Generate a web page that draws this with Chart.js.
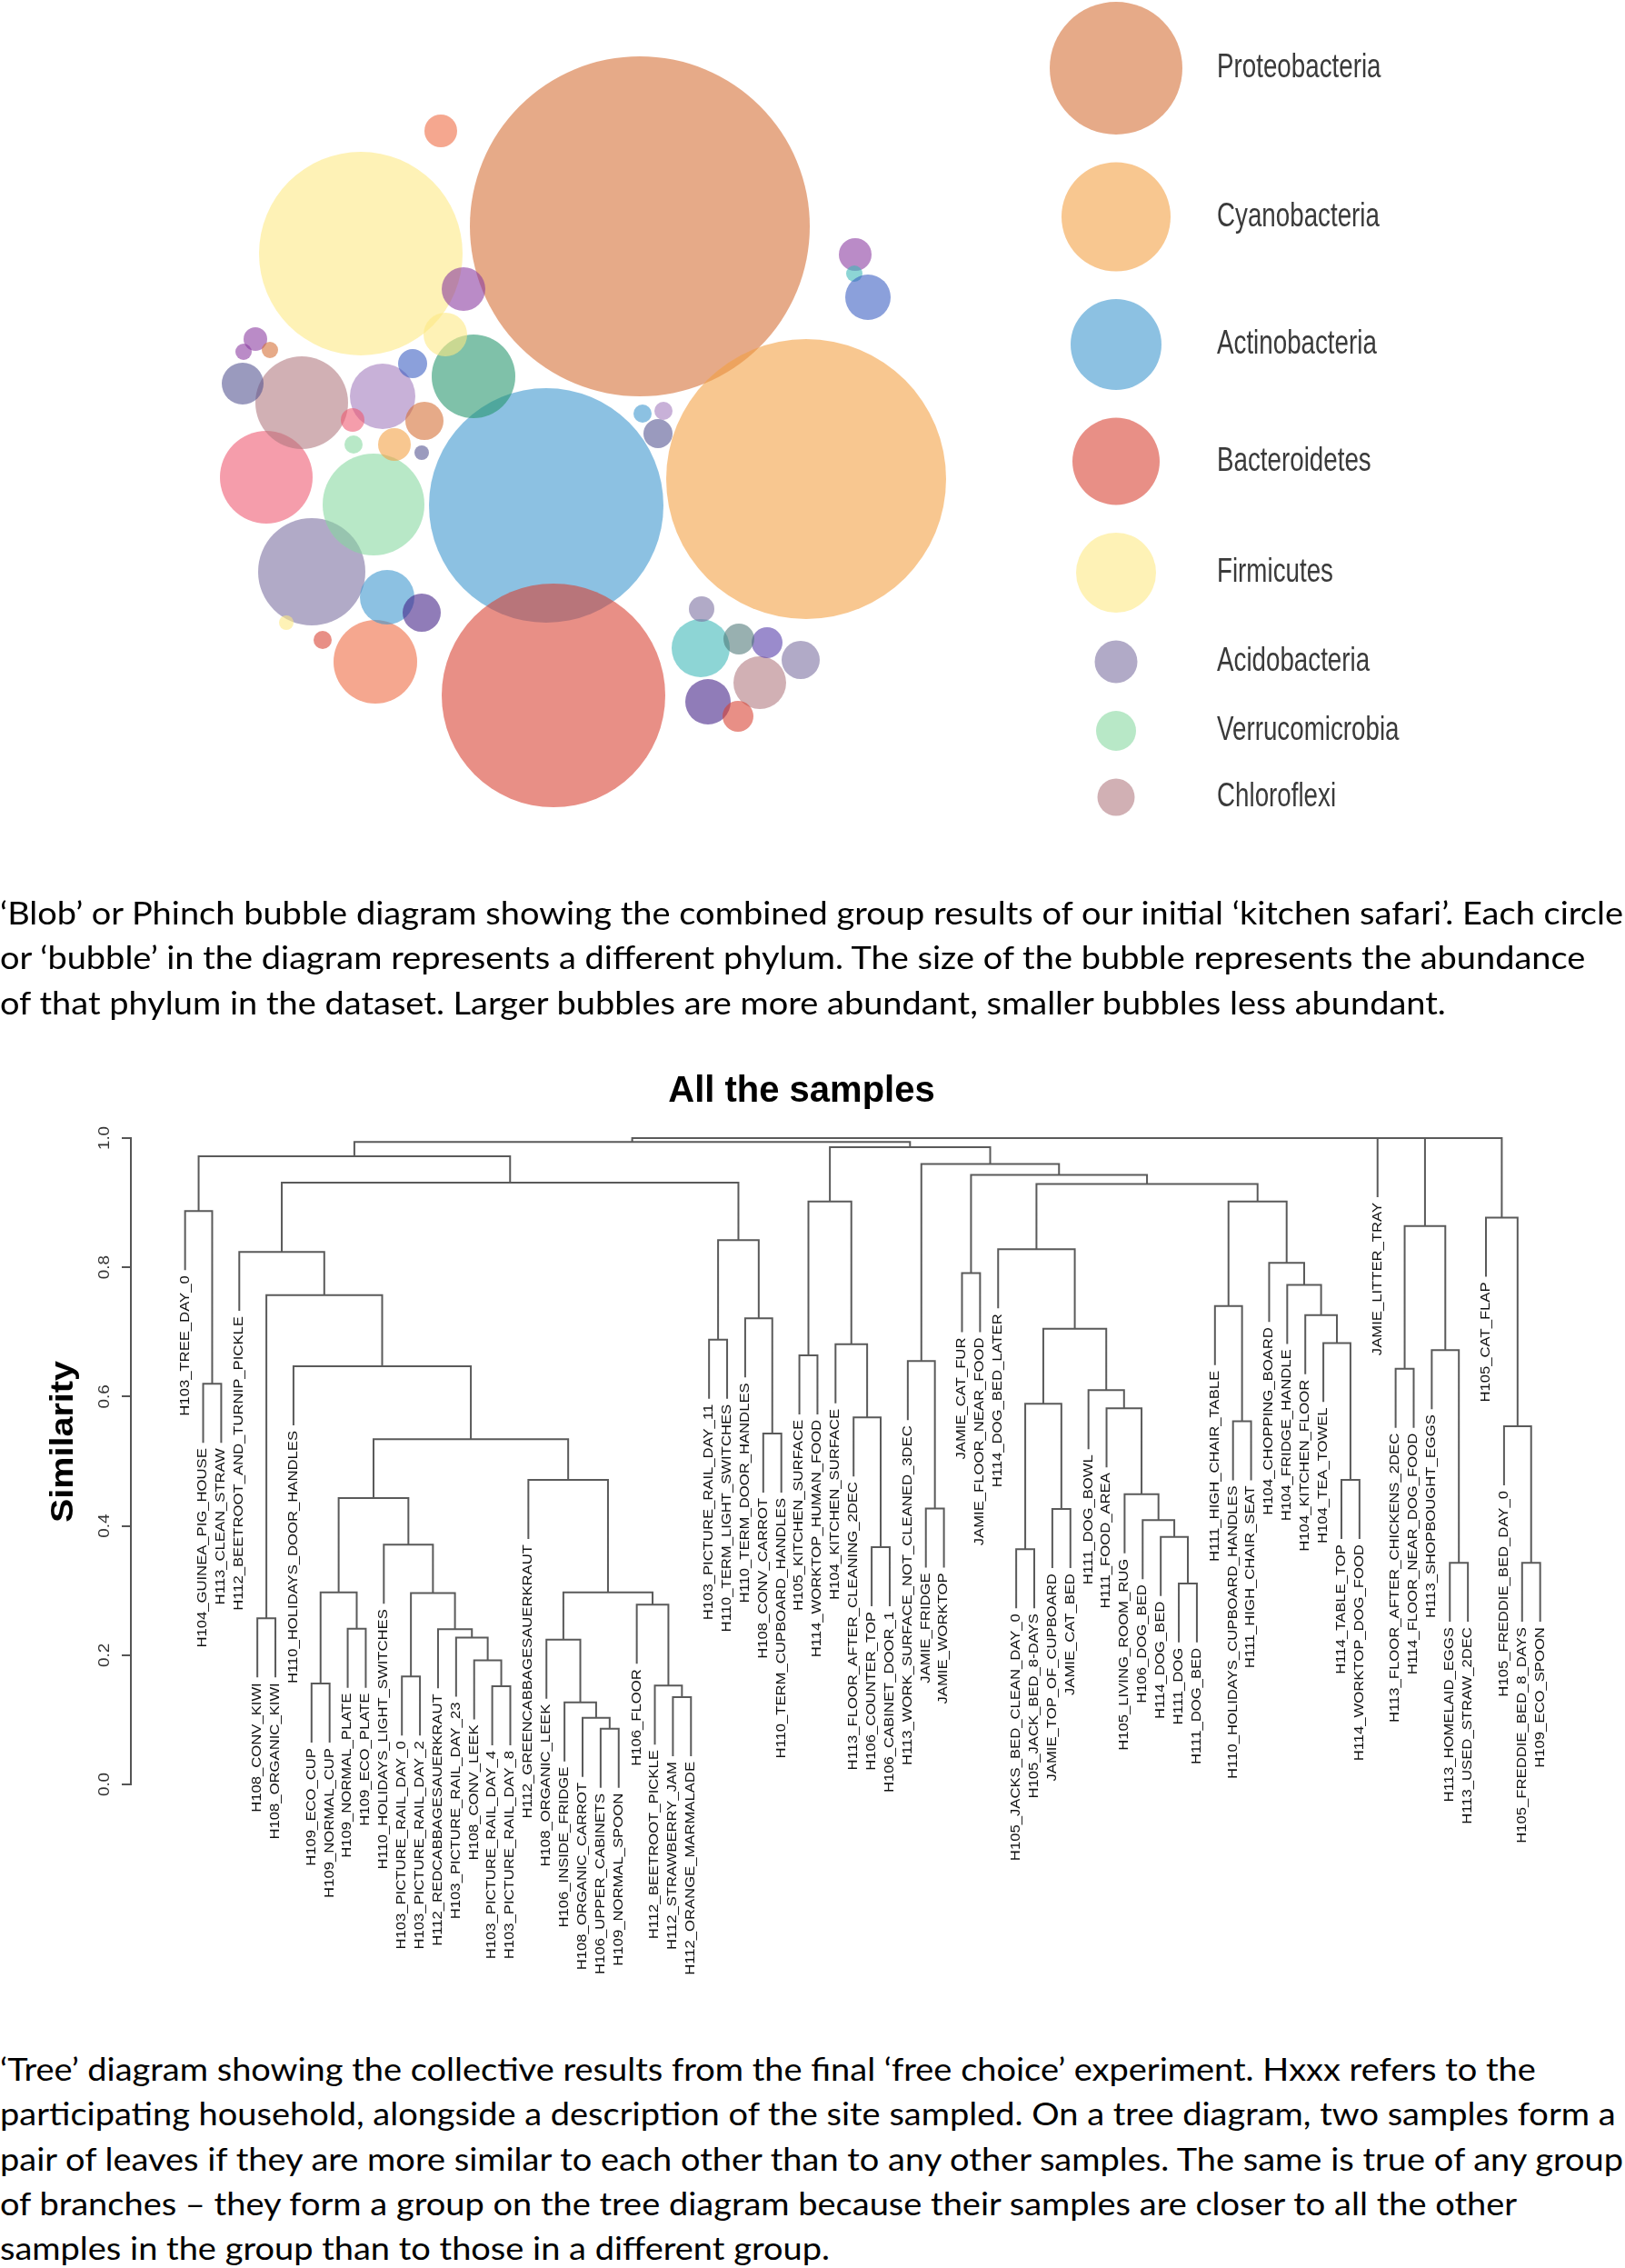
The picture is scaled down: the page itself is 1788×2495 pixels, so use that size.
<!DOCTYPE html>
<html lang="en">
<head>
<meta charset="UTF-8">
<title>Kitchen safari results</title>
<script src="https://cdn.jsdelivr.net/npm/chart.js"></script>
<style>
  body { margin: 0; background: #fff; width: 1788px; height: 2495px; position: relative; overflow: hidden; }
  canvas { position: absolute; }
  #blob { top: -200px; left: -200px; }
  #tree { top: 1160px; left: 0; }
  .caption { position: absolute; left: 0; font-family: Lato, "Open Sans", sans-serif; font-size: 35px; line-height: 49.3px; color: #000; }
  .caption div { white-space: nowrap; width: max-content; transform-origin: 0 50%; }
</style>
</head>
<body>
<canvas id="blob" width="2188" height="1360"></canvas>

<div class="caption" id="cap1" style="top:979px">
  <div>‘Blob’ or Phinch bubble diagram showing the combined group results of our initial ‘kitchen safari’. Each circle</div>
  <div>or ‘bubble’ in the diagram represents a different phylum. The size of the bubble represents the abundance</div>
  <div>of that phylum in the dataset. Larger bubbles are more abundant, smaller bubbles less abundant.</div>
</div>

<canvas id="tree" width="1788" height="1040"></canvas>

<div class="caption" id="cap2" style="top:2251px">
  <div>‘Tree’ diagram showing the collective results from the final ‘free choice’ experiment. Hxxx refers to the</div>
  <div>participating household, alongside a description of the site sampled. On a tree diagram, two samples form a</div>
  <div>pair of leaves if they are more similar to each other than to any other samples. The same is true of any group</div>
  <div>of branches – they form a group on the tree diagram because their samples are closer to all the other</div>
  <div>samples in the group than to those in a different group.</div>
</div>

<script>
// ---- bubble diagram data ----
const phyla = ['Proteobacteria', 'Cyanobacteria', 'Actinobacteria', 'Bacteroidetes',
               'Firmicutes', 'Acidobacteria', 'Verrucomicrobia', 'Chloroflexi'];
const legendR = [73, 60, 50, 48, 44, 23.5, 22, 20.5];

// bubble layout (x, y, radius)
const bubbleX = [704, 887, 601, 609, 397, 343, 411, 293, 332, 413, 521, 421, 426, 464, 771,
                 836, 779, 812, 844, 813, 881, 772, 485, 510, 490, 941, 940, 955, 281, 268,
                 297, 267, 454, 467, 434, 388, 389, 464, 707, 730, 724, 315, 355];
const bubbleY = [249, 527, 556, 765, 279, 629, 555, 525, 443, 728, 414, 436, 657, 674, 713,
                 751, 772, 788, 707, 703, 726, 670, 144, 318, 368, 280, 301, 327, 373, 387,
                 385, 422, 400, 463, 489, 462, 489, 498, 455, 452, 477, 685, 704];
const bubbleR = [187, 154, 129, 123, 112, 59, 56, 51, 51, 46, 46, 36, 30, 21, 32,
                 29, 25, 17, 17, 17, 21, 14, 18, 24, 24, 18, 9, 25, 13, 9,
                 9, 23, 16, 21, 18, 13, 10, 8, 10, 10, 16, 8, 10];
const bubbleTone = ['proteo', 'cyano', 'actino', 'bact', 'firm', 'acido', 'verruco', 'rose', 'chloro', 'salmon',
                    'tealgreen', 'lavender', 'actino', 'darkpurple', 'teal', 'chloro', 'darkpurple', 'bact', 'violet', 'greyteal',
                    'acido', 'acido', 'salmon', 'purple', 'firm', 'purple', 'teal', 'blue', 'purple', 'purple',
                    'proteo', 'greyblue', 'blue', 'proteo', 'cyano', 'rose', 'verruco', 'greyblue', 'actino', 'lavender',
                    'greyblue', 'firm', 'bact'];

// ---- dendrogram data ----
const leafLabels = [
  'H103_TREE_DAY_0', 'H104_GUINEA_PIG_HOUSE', 'H113_CLEAN_STRAW', 'H112_BEETROOT_AND_TURNIP_PICKLE',
  'H108_CONV_KIWI', 'H108_ORGANIC_KIWI', 'H110_HOLIDAYS_DOOR_HANDLES', 'H109_ECO_CUP',
  'H109_NORMAL_CUP', 'H109_NORMAL_PLATE', 'H109_ECO_PLATE', 'H110_HOLIDAYS_LIGHT_SWITCHES',
  'H103_PICTURE_RAIL_DAY_0', 'H103_PICTURE_RAIL_DAY_2', 'H112_REDCABBAGESAUERKRAUT', 'H103_PICTURE_RAIL_DAY_23',
  'H108_CONV_LEEK', 'H103_PICTURE_RAIL_DAY_4', 'H103_PICTURE_RAIL_DAY_8', 'H112_GREENCABBAGESAUERKRAUT',
  'H108_ORGANIC_LEEK', 'H106_INSIDE_FRIDGE', 'H108_ORGANIC_CARROT', 'H106_UPPER_CABINETS',
  'H109_NORMAL_SPOON', 'H106_FLOOR', 'H112_BEETROOT_PICKLE', 'H112_STRAWBERRY_JAM',
  'H112_ORANGE_MARMALADE', 'H103_PICTURE_RAIL_DAY_11', 'H110_TERM_LIGHT_SWITCHES', 'H110_TERM_DOOR_HANDLES',
  'H108_CONV_CARROT', 'H110_TERM_CUPBOARD_HANDLES', 'H105_KITCHEN_SURFACE', 'H114_WORKTOP_HUMAN_FOOD',
  'H104_KITCHEN_SURFACE', 'H113_FLOOR_AFTER_CLEANING_2DEC', 'H106_COUNTER_TOP', 'H106_CABINET_DOOR_1',
  'H113_WORK_SURFACE_NOT_CLEANED_3DEC', 'JAMIE_FRIDGE', 'JAMIE_WORKTOP', 'JAMIE_CAT_FUR',
  'JAMIE_FLOOR_NEAR_FOOD', 'H114_DOG_BED_LATER', 'H105_JACKS_BED_CLEAN_DAY_0', 'H105_JACK_BED_8-DAYS',
  'JAMIE_TOP_OF_CUPBOARD', 'JAMIE_CAT_BED', 'H111_DOG_BOWL', 'H111_FOOD_AREA',
  'H105_LIVING_ROOM_RUG', 'H106_DOG_BED', 'H114_DOG_BED', 'H111_DOG',
  'H111_DOG_BED', 'H111_HIGH_CHAIR_TABLE', 'H110_HOLIDAYS_CUPBOARD_HANDLES', 'H111_HIGH_CHAIR_SEAT',
  'H104_CHOPPING_BOARD', 'H104_FRIDGE_HANDLE', 'H104_KITCHEN_FLOOR', 'H104_TEA_TOWEL',
  'H114_TABLE_TOP', 'H114_WORKTOP_DOG_FOOD', 'JAMIE_LITTER_TRAY', 'H113_FLOOR_AFTER_CHICKENS_2DEC',
  'H114_FLOOR_NEAR_DOG_FOOD', 'H113_SHOPBOUGHT_EGGS', 'H113_HOMELAID_EGGS', 'H113_USED_STRAW_2DEC',
  'H105_CAT_FLAP', 'H105_FREDDIE_BED_DAY_0', 'H105_FREDDIE_BED_8_DAYS', 'H109_ECO_SPOON'
];
// hclust-style merges: negative = leaf number, positive = earlier merge number
const mergeA = [-24, -23, -22, -28, -18, -27, -8, -13, -17, -21, -16, -15, -10, -5, -26,
                8, 7, 10, -56, -71, -75, -47, -39, -12, -55, -54, -49, -42, 17, -53,
                -20, -65, 29, -33, -74, -59, -38, -52, 22, -51, -2, -68, -7, -41, -35,
                -70, -37, -64, -30, 39, -32, -63, -58, 14, -62, -44, -61, -4, -46, 49,
                42, -73, -1, 45, 53, 59, 58, 56, 44, 63, 64, 70, 61, -67, 72];
const mergeB = [-25, 1, 2, -29, -19, 4, -9, -14, 5, 3, 9, 11, -11, -6, 6,
                12, 13, 15, -57, -72, -76, -48, -40, 16, 19, 25, -50, -43, 24, 26,
                18, -66, 31, -34, 21, -60, 23, 30, 27, 38, -3, -69, 33, 28, -36,
                20, 37, 32, -31, 40, 34, 48, 36, 43, 52, -45, 55, 54, 50, 51,
                46, 35, 41, 47, 57, 65, 60, 66, 68, 67, 69, 71, 62, 73, 74];
const mergeHeight = [0.086, 0.103, 0.127, 0.135, 0.152, 0.153, 0.156, 0.167, 0.192, 0.224, 0.227, 0.240, 0.241, 0.257, 0.278,
                     0.296, 0.297, 0.297, 0.311, 0.343, 0.343, 0.364, 0.367, 0.371, 0.383, 0.409, 0.426, 0.427, 0.443, 0.449,
                     0.471, 0.471, 0.534, 0.543, 0.554, 0.562, 0.568, 0.582, 0.589, 0.610, 0.620, 0.643, 0.647, 0.655, 0.664,
                     0.672, 0.681, 0.683, 0.688, 0.705, 0.721, 0.726, 0.740, 0.757, 0.773, 0.791, 0.807, 0.824, 0.828, 0.842,
                     0.864, 0.877, 0.887, 0.902, 0.902, 0.929, 0.931, 0.943, 0.960, 0.972, 0.986, 0.994, 1.0, 1.0, 1.0];
const similarityTicks = [0, 0.2, 0.4, 0.6, 0.8, 1.0];

// ---- colours ----
const palette = {
  proteo: 'rgba(213,110,52,0.59)', cyano: 'rgba(243,159,67,0.59)', actino: 'rgba(60,149,206,0.59)',
  bact: 'rgba(216,64,50,0.59)', firm: 'rgba(254,233,131,0.59)', acido: 'rgba(122,110,159,0.59)',
  verruco: 'rgba(135,216,159,0.59)', chloro: 'rgba(176,120,128,0.59)', rose: 'rgba(238,89,113,0.59)',
  salmon: 'rgba(238,105,64,0.59)', tealgreen: 'rgba(38,150,108,0.59)', lavender: 'rgba(162,123,188,0.59)',
  darkpurple: 'rgba(66,32,135,0.59)', violet: 'rgba(84,57,168,0.59)', purple: 'rgba(137,57,159,0.59)',
  blue: 'rgba(57,94,193,0.59)', greyblue: 'rgba(84,84,145,0.59)', teal: 'rgba(62,184,184,0.59)',
  greyteal: 'rgba(80,120,120,0.59)'
};
const legendTone = ['proteo', 'cyano', 'actino', 'bact', 'firm', 'acido', 'verruco', 'chloro'];

// ---- captions: squeeze the lines to the width of the original text block ----
function fitCaption(id, refLine, width) {
  const lines = document.querySelectorAll('#' + id + ' div');
  const k = width / lines[refLine].getBoundingClientRect().width;
  lines.forEach(l => { l.style.transform = 'scaleX(' + k + ')'; });
}
fitCaption('cap1', 0, 1786);
fitCaption('cap2', 2, 1786);

// ---- bubble chart ----
const legendX = 1228;
let ly = 75;
const legendPoints = legendR.map((r, i) => {
  if (i > 0) ly += legendR[i - 1] + r + 30.5;
  return { x: legendX, y: ly, r: r };
});
const bubblePoints = bubbleX.map((x, i) => ({ x: x, y: bubbleY[i], r: bubbleR[i] }));

// Chart.js pads the chart area by the biggest radius; the canvas is oversized by
// `over` on each side so the plotted area still covers the whole top panel
const pad = Math.max(...bubbleR, ...legendR);
const over = 200, panelW = 1788, panelH = 960;

const legendText = {
  id: 'legendText',
  afterDatasetsDraw(chart) {
    const { ctx, scales: { x, y } } = chart;
    ctx.save();
    ctx.fillStyle = '#3a3a3a';
    ctx.font = '37px "Liberation Sans", Arial, sans-serif';
    ctx.textBaseline = 'alphabetic';
    legendPoints.forEach((p, i) => {
      ctx.save();
      ctx.translate(x.getPixelForValue(p.x) + 111, y.getPixelForValue(p.y) + 10);
      ctx.scale(0.75, 1);
      ctx.fillText(phyla[i], 0, 0);
      ctx.restore();
    });
    ctx.restore();
  }
};

new Chart(document.getElementById('blob'), {
  type: 'bubble',
  data: {
    datasets: [
      { label: 'legend', data: legendPoints, backgroundColor: legendTone.map(t => palette[t]), clip: false },
      { label: 'phyla', data: bubblePoints, backgroundColor: bubbleTone.map(t => palette[t]), clip: false }
    ]
  },
  options: {
    responsive: false,
    animation: false,
    events: [],
    layout: { padding: 0 },
    elements: { point: { borderWidth: 0, borderColor: 'rgba(0,0,0,0)' } },
    scales: {
      x: { display: false, min: pad - over, max: panelW + over - pad },
      y: { display: false, min: pad - over, max: panelH + over - pad, reverse: true }
    },
    plugins: { legend: { display: false }, tooltip: { enabled: false } }
  },
  plugins: [legendText]
});

// ---- dendrogram ----
const hang = 0.1 * (Math.max(...mergeHeight) - Math.min(...mergeHeight));
const nodeX = [], leafBottom = [];
const segments = [];
function childPos(c, h) {
  if (c < 0) {
    leafBottom[-c - 1] = h - hang;
    return { x: -c, y: h - hang };
  }
  return { x: nodeX[c - 1], y: mergeHeight[c - 1] };
}
mergeHeight.forEach((h, k) => {
  const a = childPos(mergeA[k], h);
  const b = childPos(mergeB[k], h);
  nodeX[k] = (a.x + b.x) / 2;
  segments.push({ x: a.x, y: a.y }, { x: a.x, y: h }, { x: b.x, y: h }, { x: b.x, y: b.y }, { x: null, y: null });
});

function rotatedText(ctx, text, px, py, stretch, align) {
  ctx.save();
  ctx.translate(px, py);
  ctx.rotate(-Math.PI / 2);
  ctx.scale(stretch, 1);
  ctx.textAlign = align;
  ctx.fillText(text, 0, 0);
  ctx.restore();
}

const treeText = {
  id: 'treeText',
  afterDraw(chart) {
    const { ctx, scales: { x, y } } = chart;
    ctx.save();
    ctx.fillStyle = '#111';
    ctx.textBaseline = 'middle';
    ctx.font = '14px "Liberation Sans", Arial, sans-serif';
    leafLabels.forEach((lab, i) => {
      rotatedText(ctx, lab, x.getPixelForValue(i + 1), y.getPixelForValue(leafBottom[i]) + 6, 1.19, 'right');
    });
    ctx.fillStyle = '#333';
    ctx.font = '16px "Liberation Sans", Arial, sans-serif';
    similarityTicks.forEach(t => {
      rotatedText(ctx, t.toFixed(1), 116, y.getPixelForValue(t), 1.18, 'center');
    });
    ctx.fillStyle = '#000';
    ctx.font = 'bold 35px "Liberation Sans", Arial, sans-serif';
    rotatedText(ctx, 'Similarity', 70, 426, 1.13, 'center');
    ctx.textBaseline = 'alphabetic';
    ctx.textAlign = 'center';
    ctx.font = 'bold 40px "Liberation Sans", Arial, sans-serif';
    ctx.fillText('All the samples', 882, 52);
    ctx.restore();
  }
};

new Chart(document.getElementById('tree'), {
  type: 'scatter',
  data: {
    datasets: [{
      data: segments,
      showLine: true,
      spanGaps: false,
      borderColor: '#5a5a5a',
      borderWidth: 2,
      pointRadius: 0,
      clip: false
    }]
  },
  options: {
    responsive: false,
    animation: false,
    events: [],
    layout: { padding: { top: 92, bottom: 237, left: 0, right: 33.7 } },
    scales: {
      x: { type: 'linear', display: false, min: -2, max: 79 },
      y: {
        type: 'linear', position: 'left', min: 0, max: 1,
        afterFit: s => { s.width = 144; },
        afterBuildTicks: s => { s.ticks = similarityTicks.map(v => ({ value: v })); },
        ticks: { display: false },
        grid: { drawOnChartArea: false, drawTicks: true, tickLength: 10, color: '#555', lineWidth: 2 },
        border: { display: true, color: '#555', width: 2 }
      }
    },
    plugins: { legend: { display: false }, tooltip: { enabled: false } }
  },
  plugins: [treeText]
});
</script>
</body>
</html>
